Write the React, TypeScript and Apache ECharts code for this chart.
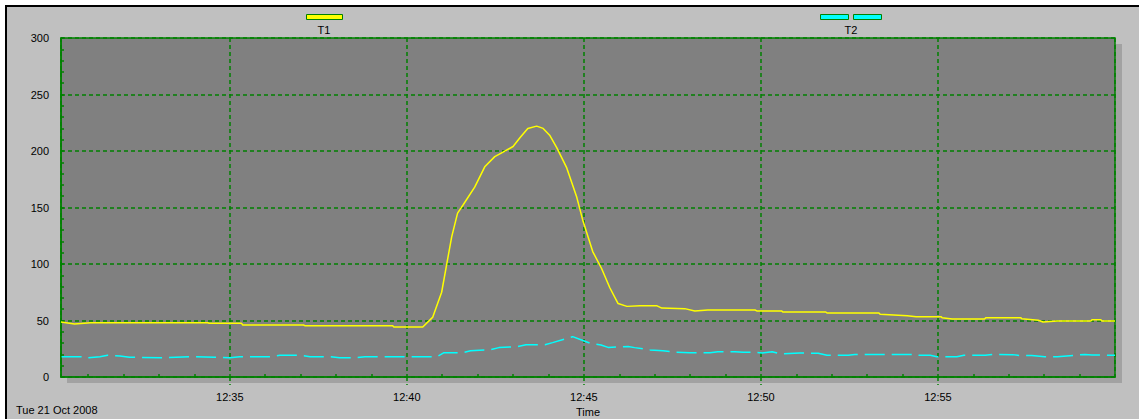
import React, { useEffect, useRef } from "react";
import * as echarts from "echarts";

// ---- data ----
const DATE_LABEL = "Tue 21 Oct 2008";
const X_NAME = "Time";
const X_START = "12:30:14";
const X_END = "13:00:00";

const T1_TIMES = [
  "12:30:14", "12:30:37", "12:31:04", "12:34:23", "12:34:25", "12:35:20", "12:35:22", "12:37:05",
  "12:37:07", "12:39:36", "12:39:38", "12:40:27", "12:40:44", "12:40:59", "12:41:08", "12:41:16",
  "12:41:26", "12:41:35", "12:41:55", "12:42:12", "12:42:29", "12:42:43", "12:43:00", "12:43:12",
  "12:43:25", "12:43:40", "12:43:51", "12:44:02", "12:44:14", "12:44:31", "12:44:48", "12:44:58",
  "12:45:15", "12:45:30", "12:45:44", "12:45:58", "12:46:13", "12:46:35", "12:47:04", "12:47:12",
  "12:47:51", "12:48:08", "12:48:30", "12:49:50", "12:49:53", "12:50:35", "12:50:37", "12:51:50",
  "12:51:52", "12:53:20", "12:53:22", "12:54:08", "12:54:23", "12:55:05", "12:55:07", "12:55:24",
  "12:56:19", "12:56:21", "12:57:20", "12:57:22", "12:57:50", "12:57:58", "12:58:22", "12:59:19",
  "12:59:21", "12:59:36", "12:59:38", "13:00:00",
];
const T1_VALUES = [
  48.7, 47, 48, 48, 47.5, 47.5, 46, 46,
  45.4, 45.4, 44.2, 44.2, 53, 75, 101, 124,
  145, 152, 168, 186, 195, 199, 204, 212,
  220, 222, 220, 214, 203, 185, 159, 139,
  111, 96, 79, 65, 62.5, 63, 63, 61,
  60.5, 58.5, 59.3, 59.3, 58.5, 58.5, 57.5, 57.5,
  56.6, 56.6, 55.5, 54.3, 53.4, 53.4, 52.5, 51.3,
  51.3, 52.5, 52.5, 51.6, 50.2, 48.7, 49.6, 49.6,
  50.7, 50.7, 49.6, 49.6,
];

const T2_TIMES = [
  "12:30:15", "12:30:55", "12:30:59", "12:31:20", "12:31:33", "12:31:54", "12:32:10", "12:33:05",
  "12:33:52", "12:34:35", "12:35:00", "12:35:17", "12:36:08", "12:36:25", "12:36:59", "12:37:16",
  "12:37:50", "12:38:06", "12:38:32", "12:38:49", "12:40:51", "12:41:03", "12:41:35", "12:41:48",
  "12:42:21", "12:42:36", "12:43:08", "12:43:22", "12:43:54", "12:44:07", "12:44:41", "12:44:55",
  "12:45:10", "12:45:29", "12:45:41", "12:46:15", "12:46:26", "12:46:52", "12:47:14", "12:47:34",
  "12:48:00", "12:48:34", "12:48:47", "12:49:16", "12:49:30", "12:49:50", "12:50:02", "12:50:19",
  "12:50:32", "12:51:06", "12:51:37", "12:51:52", "12:52:28", "12:52:39", "12:54:21", "12:54:24",
  "12:54:47", "12:54:58", "12:55:32", "12:55:44", "12:56:20", "12:56:32", "12:57:06", "12:57:19",
  "12:57:39", "12:58:01", "12:58:22", "12:58:49", "12:59:09", "12:59:21", "13:00:00",
];
const T2_VALUES = [
  18, 18, 17, 18, 19.2, 18.5, 17.5, 17,
  18, 17.5, 17, 18, 18, 19.2, 19.2, 18,
  18, 17, 17, 18, 18, 21.5, 21.5, 23.3,
  24, 26, 27, 28.6, 28.6, 30.4, 35.7, 33,
  30, 28.3, 26.2, 27, 26, 24, 23.3, 22,
  21.5, 21.5, 22.4, 22.4, 22, 22, 21.2, 22.4,
  20.5, 21.2, 21, 19.2, 19.2, 20, 20, 19.2,
  19.2, 18, 18, 19.2, 19.2, 20, 19.8, 19,
  19, 18, 18, 19, 20, 19.5, 19.2,
];

const Y_MIN = 0;
const Y_MAX = 300;
const Y_STEP = 50;
const X_STEP_SECONDS = 300;

const toSec = (t: string) => {
  const [h, m, s] = t.split(":").map(Number);
  return h * 3600 + m * 60 + s;
};
const fmt = (v: number) => {
  const h = Math.floor(v / 3600);
  const m = Math.floor((v % 3600) / 60);
  return `${h}:${String(m).padStart(2, "0")}`;
};

const GREEN = "#008000";
const FONT = "'Liberation Sans', Arial, sans-serif";

export default function App() {
  const ref = useRef<HTMLDivElement>(null);
  useEffect(() => {
    if (!ref.current) return;
    const chart = echarts.init(ref.current, undefined, { renderer: "svg" });
    const xMin = toSec(X_START);
    const xMax = toSec(X_END);
    const t1 = T1_TIMES.map((t, i) => [toSec(t), T1_VALUES[i]]);
    const t2 = T2_TIMES.map((t, i) => [toSec(t), T2_VALUES[i]]);
    const dash = [4, 3];
    chart.setOption({
      animation: false,
      backgroundColor: "#ffffff",
      textStyle: { fontFamily: FONT },
      grid: {
        left: 61,
        right: 24,
        top: 38,
        bottom: 42,
        show: true,
        backgroundColor: "#808080",
        borderColor: GREEN,
        borderWidth: 1.5,
        outerBoundsMode: "none",
      },
      legend: [
        {
          data: [{ name: "T1", icon: "rect" }],
          left: 306,
          top: 14,
          padding: 0,
          itemWidth: 36,
          itemHeight: 5,
          formatter: () => "",
          itemStyle: { borderColor: GREEN, borderWidth: 1 },
          selectedMode: false,
        },
        {
          data: [{ name: "T2", icon: "path://M0,0H28V5H0Z M33,0H61V5H33Z" }],
          left: 820,
          top: 14,
          padding: 0,
          itemWidth: 61,
          itemHeight: 5,
          formatter: () => "",
          itemStyle: { borderColor: GREEN, borderWidth: 1 },
          selectedMode: false,
        },
      ],
      xAxis: [
        {
          type: "value",
          min: xMin,
          max: xMax,
          minInterval: X_STEP_SECONDS,
          maxInterval: X_STEP_SECONDS,
          splitNumber: 6,
          name: X_NAME,
          nameLocation: "middle",
          nameGap: 28,
          nameTextStyle: { color: "#000", fontSize: 11, fontFamily: FONT },
          axisLine: { show: true, onZero: false, lineStyle: { color: GREEN, width: 1.5 } },
          axisTick: { show: true, inside: false, length: 8, lineStyle: { color: GREEN, width: 1.5, type: dash } },
          axisLabel: {
            color: "#000",
            fontSize: 11,
            fontFamily: FONT,
            margin: 14,
            showMinLabel: false,
            showMaxLabel: false,
            formatter: (v: number) => (v % X_STEP_SECONDS === 0 && v < xMax ? fmt(v) : ""),
          },
          splitLine: { show: true, lineStyle: { color: GREEN, width: 1.5, type: dash } },
        },
        {
          type: "value",
          position: "bottom",
          min: xMin,
          max: xMax,
          minInterval: X_STEP_SECONDS,
          maxInterval: X_STEP_SECONDS,
          splitNumber: 6,
          axisLine: { show: false, onZero: false },
          axisTick: { show: false, inside: true },
          minorTick: { show: true, splitNumber: 5, length: 3, lineStyle: { color: GREEN, width: 1.5 } },
          axisLabel: { show: false },
          splitLine: { show: false },
        },
      ],
      yAxis: {
        type: "value",
        min: Y_MIN,
        max: Y_MAX,
        interval: Y_STEP,
        axisLine: { show: true, lineStyle: { color: GREEN, width: 1.5 } },
        axisTick: { show: true, inside: true, length: 3, lineStyle: { color: GREEN, width: 1.5 } },
        minorTick: { show: true, splitNumber: 5, length: 3, lineStyle: { color: GREEN, width: 1.5 } },
        axisLabel: { color: "#000", fontSize: 11, fontFamily: FONT, margin: 12 },
        splitLine: { show: true, lineStyle: { color: GREEN, width: 1.5, type: dash } },
      },
      graphic: [
        {
          type: "rect",
          z: -10,
          silent: true,
          shape: { x: 6, y: 6, width: 1200, height: 500 },
          style: { fill: "#c0c0c0", stroke: "#000000", lineWidth: 2 },
        },
        {
          type: "rect",
          z: -9,
          silent: true,
          shape: { x: 67, y: 44, width: 1055, height: 339 },
          style: { fill: "#a2a2a2" },
        },
        {
          type: "text",
          x: 324,
          y: 30,
          style: { text: "T1", fill: "#000", font: `11px ${FONT}`, align: "center", verticalAlign: "middle" },
        },
        {
          type: "text",
          x: 851,
          y: 30,
          style: { text: "T2", fill: "#000", font: `11px ${FONT}`, align: "center", verticalAlign: "middle" },
        },
        {
          type: "text",
          x: 16,
          y: 410,
          style: { text: DATE_LABEL, fill: "#000", font: `11px ${FONT}`, align: "left", verticalAlign: "middle" },
        },
      ],
      series: [
        {
          name: "T1",
          type: "line",
          data: t1,
          showSymbol: false,
          symbol: "none",
          color: "#ffff00",
          lineStyle: { color: "#ffff00", width: 1.5 },
        },
        {
          name: "T2",
          type: "line",
          data: t2,
          showSymbol: false,
          symbol: "none",
          color: "#00ffff",
          lineStyle: { color: "#00ffff", width: 1.5, type: [20, 7] },
        },
      ],
    });
    return () => chart.dispose();
  }, []);
  return (
    <div
      ref={ref}
      style={{ position: "absolute", left: 0, top: 0, width: 1139, height: 419 }}
    />
  );
}
